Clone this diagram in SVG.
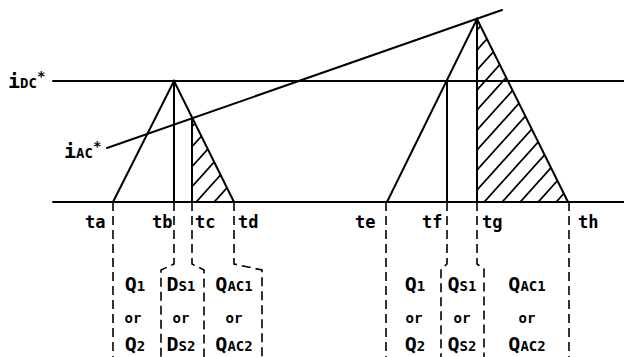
<svg xmlns="http://www.w3.org/2000/svg" width="624" height="357" viewBox="0 0 624 357">
<style>
.ln{stroke:#000;stroke-width:2;fill:none;stroke-linecap:round}
.ds{stroke:#000;stroke-width:1.6;fill:none;stroke-dasharray:9 5}
text{font-family:"DejaVu Sans Mono","Liberation Mono",monospace;fill:#000;font-weight:bold}
.t{font-size:17px}
.big{font-size:20px}
.sub{font-size:14px}
.or{font-size:14px}
</style>
<defs>
<pattern id="hatch" patternUnits="userSpaceOnUse" width="18" height="20">
<path d="M0,20 L18,0 M-2,2.2 L2,-2.2 M16,22.2 L20,17.8" stroke="#000" stroke-width="1.8"/>
</pattern>
</defs>
<g id="hatched">
<polygon points="192,118 192,202 234,202" fill="url(#hatch)"/>
<polygon points="477,19 477,202 568,202" fill="url(#hatch)"/>
</g>
<g id="axes">
<line class="ln" x1="53" y1="81" x2="624" y2="81"/>
<line class="ln" x1="53" y1="202" x2="624" y2="202"/>
<line class="ln" x1="107" y1="148" x2="502" y2="10"/>
</g>
<g id="triangle1">
<polyline class="ln" points="113,202 174,81 234,202"/>
<line class="ln" x1="174" y1="81" x2="174" y2="202"/>
<line class="ln" x1="192" y1="118" x2="192" y2="202"/>
</g>
<g id="triangle2">
<polyline class="ln" points="387,202 477,19 568,202"/>
<line class="ln" x1="447" y1="81" x2="447" y2="202"/>
<line class="ln" x1="477" y1="19" x2="477" y2="202"/>
</g>
<g id="connectors">
<path class="ds" d="M113,202 V357"/>
<path class="ds" d="M174,202 V264 L161,270 V357"/>
<path class="ds" d="M192,202 V264 L204,270 V357"/>
<path class="ds" d="M234,202 V264 L262,270 V357"/>
<path class="ds" d="M386,202 V357"/>
<path class="ds" d="M447,202 V264 L441,269 V357"/>
<path class="ds" d="M477,202 V264 L484,269 V357"/>
<path class="ds" d="M569,202 V357"/>
</g>
<g id="labels">
<text x="8" y="88"><tspan class="big">i</tspan><tspan class="sub">DC</tspan><tspan class="sub" dy="-7">*</tspan></text>
<text x="64" y="158"><tspan class="big">i</tspan><tspan class="sub">AC</tspan><tspan class="sub" dy="-7">*</tspan></text>
<text class="t" x="85" y="228">ta</text>
<text class="t" x="152" y="228">tb</text>
<text class="t" x="195" y="228">tc</text>
<text class="t" x="238" y="228">td</text>
<text class="t" x="355" y="228">te</text>
<text class="t" x="422" y="228">tf</text>
<text class="t" x="482" y="228">tg</text>
<text class="t" x="578" y="228">th</text>
</g>
<g id="col1" text-anchor="middle">
<text x="135" y="291"><tspan class="big">Q</tspan><tspan class="sub">1</tspan></text>
<text class="or" x="133" y="323">or</text>
<text x="135" y="351"><tspan class="big">Q</tspan><tspan class="sub">2</tspan></text>
</g>
<g id="col2" text-anchor="middle">
<text x="181" y="291"><tspan class="big">D</tspan><tspan class="sub">S1</tspan></text>
<text class="or" x="181" y="323">or</text>
<text x="181" y="351"><tspan class="big">D</tspan><tspan class="sub">S2</tspan></text>
</g>
<g id="col3" text-anchor="middle">
<text x="234" y="291"><tspan class="big">Q</tspan><tspan class="sub">AC1</tspan></text>
<text class="or" x="234" y="323">or</text>
<text x="234" y="351"><tspan class="big">Q</tspan><tspan class="sub">AC2</tspan></text>
</g>
<g id="col4" text-anchor="middle">
<text x="415" y="291"><tspan class="big">Q</tspan><tspan class="sub">1</tspan></text>
<text class="or" x="414" y="323">or</text>
<text x="415" y="351"><tspan class="big">Q</tspan><tspan class="sub">2</tspan></text>
</g>
<g id="col5" text-anchor="middle">
<text x="462" y="291"><tspan class="big">Q</tspan><tspan class="sub">S1</tspan></text>
<text class="or" x="462" y="323">or</text>
<text x="462" y="351"><tspan class="big">Q</tspan><tspan class="sub">S2</tspan></text>
</g>
<g id="col6" text-anchor="middle">
<text x="527" y="291"><tspan class="big">Q</tspan><tspan class="sub">AC1</tspan></text>
<text class="or" x="527" y="323">or</text>
<text x="527" y="351"><tspan class="big">Q</tspan><tspan class="sub">AC2</tspan></text>
</g>
</svg>
